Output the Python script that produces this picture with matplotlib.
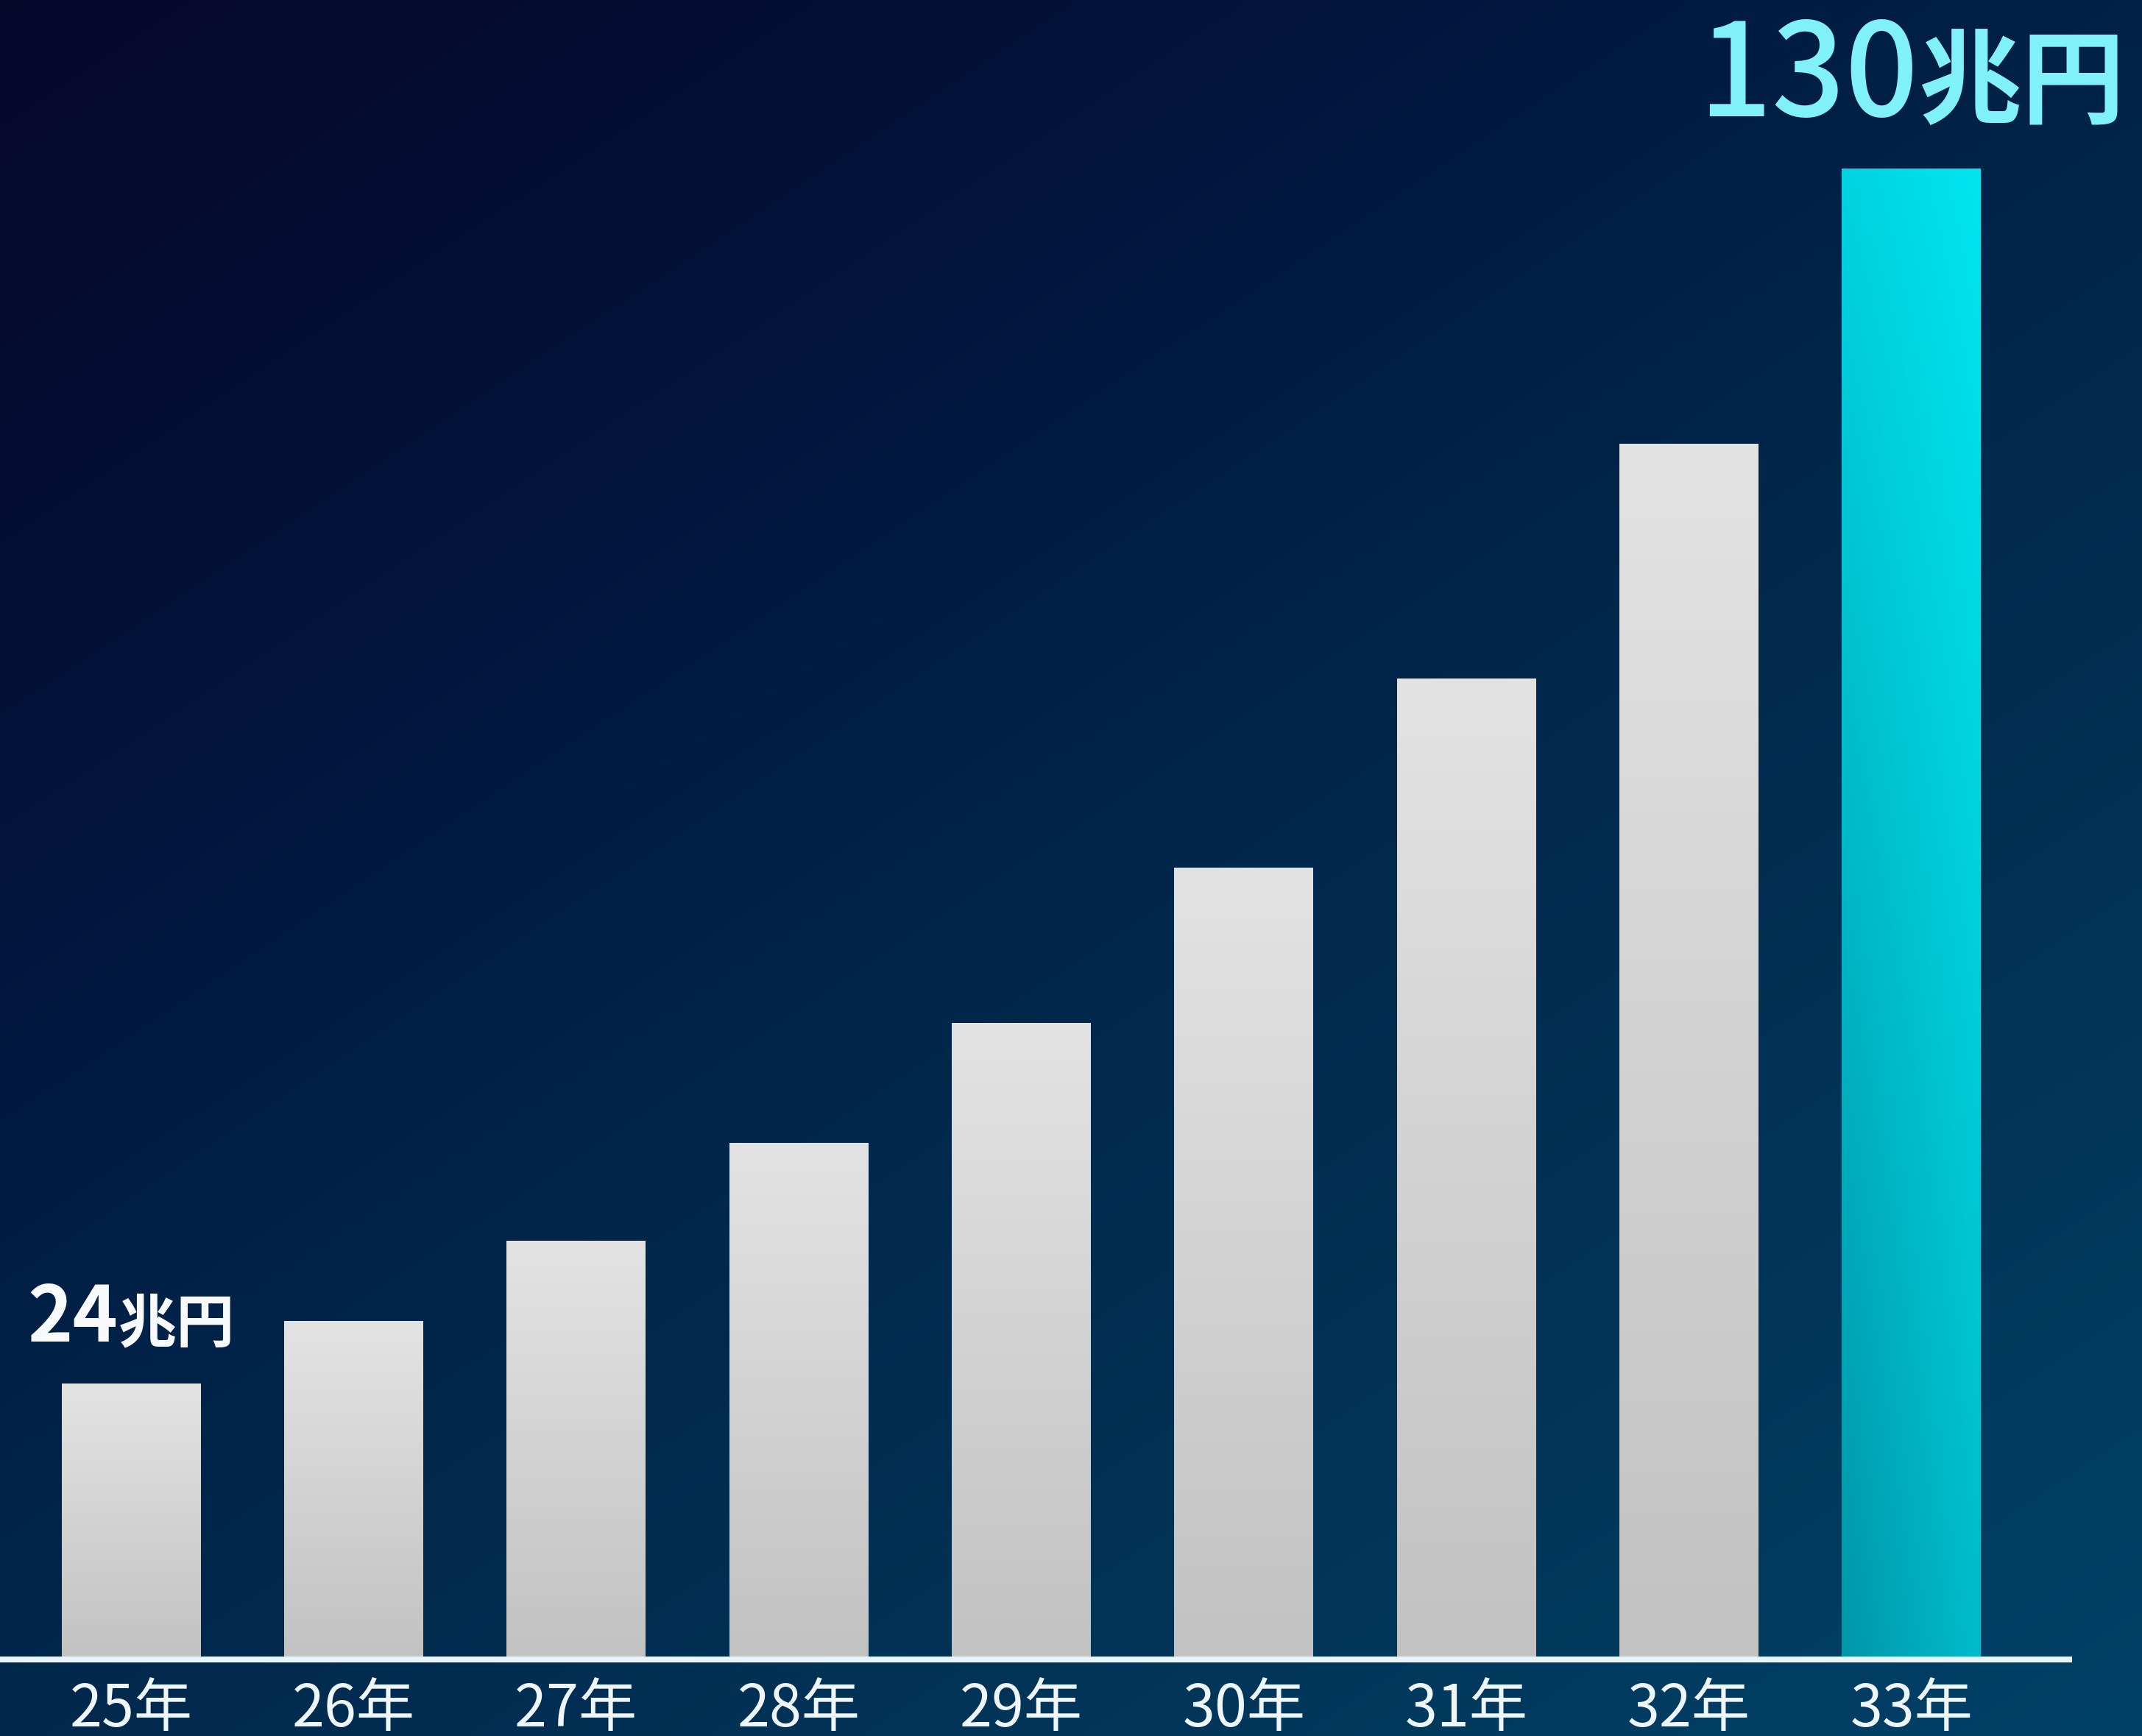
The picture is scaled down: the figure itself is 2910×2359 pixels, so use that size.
import numpy as np
import matplotlib.pyplot as plt
from matplotlib.colors import LinearSegmentedColormap, to_rgb
from matplotlib.offsetbox import TextArea, HPacker, AnnotationBbox

plt.rcParams['font.family'] = ['Noto Sans CJK JP', 'DejaVu Sans']

# market size by year (兆円)
years = ['25年', '26年', '27年', '28年', '29年', '30年', '31年', '32年', '33年']
market = [24, 29.5, 36.5, 45, 55.5, 69, 85.5, 106, 130]
first_label = ('24', '兆円')
last_label = ('130', '兆円')

fig = plt.figure(figsize=(29.1, 23.59), dpi=100)

# diagonal navy background
bg = fig.add_axes([0, 0, 1, 1], zorder=0)
bg.axis('off')
gx, gy = np.meshgrid(np.linspace(0, 1, 600), np.linspace(0, 1, 600))
shade = 0.45 * gx + 0.55 * gy
bg_cmap = LinearSegmentedColormap.from_list('bg', [
    (0.0, '#07072a'), (0.15, '#040e32'), (0.3, '#02163e'),
    (0.5, '#01254a'), (0.75, '#013457'), (1.0, '#014168')])
bg.imshow(shade, cmap=bg_cmap, vmin=0, vmax=1, aspect='auto',
          extent=[0, 1, 0, 1], origin='upper', interpolation='bilinear')

ax = fig.add_axes([0, 0.0441, 0.966, 0.9559], zorder=1)
ax.set_facecolor('none')

x = np.arange(len(years))
bars = ax.bar(x, market, width=0.625, color='none', zorder=2)


def vertical_fill(top, bottom, n=256):
    top, bottom = np.array(to_rgb(top)), np.array(to_rgb(bottom))
    s = np.linspace(0, 1, n)[:, None]
    return (bottom + (top - bottom) * s)[:, None, :]


def corner_fill(tl, tr, bl, br, n=256):
    tl, tr, bl, br = (np.array(to_rgb(c)) for c in (tl, tr, bl, br))
    v = np.linspace(0, 1, n)[:, None, None]
    h = np.linspace(0, 1, n)[None, :, None]
    bottom = bl + (br - bl) * h
    top = tl + (tr - tl) * h
    return bottom + (top - bottom) * v


gray = vertical_fill('#e3e3e3', '#c2c2c2')
cyan = corner_fill('#00d2e0', '#00e6f0', '#0096a8', '#00bccb')

for i, p in enumerate(bars.patches):
    img = cyan if i == len(bars.patches) - 1 else gray
    ax.imshow(img, extent=[p.get_x(), p.get_x() + p.get_width(), 0, p.get_height()],
              origin='lower', aspect='auto', interpolation='bilinear', zorder=2)

ax.axhline(0, color='#e8f6fc', lw=5.8, zorder=4, clip_on=False)


def value_label(i, num, unit, color, num_size, unit_size, gap, weight):
    num_box = TextArea(num, textprops=dict(color=color, fontsize=num_size, fontweight=weight))
    unit_box = TextArea(unit, textprops=dict(color=color, fontsize=unit_size, fontweight='bold'))
    pack = HPacker(children=[num_box, unit_box], align='baseline', pad=0, sep=0)
    ab = AnnotationBbox(pack, (x[i], market[i]), xybox=(0, gap), xycoords='data',
                        boxcoords='offset points', box_alignment=(0.5, 0),
                        frameon=False, zorder=5)
    ax.add_artist(ab)


value_label(0, first_label[0], first_label[1], '#f8f9fb', 75, 57, 26, 'bold')
value_label(len(x) - 1, last_label[0], last_label[1], '#80f1f8', 126, 101, 23, 'medium')

ax.set_xticks(x, years)
ax.tick_params(axis='x', length=0, pad=20, labelsize=57, labelcolor='#eef6fa')
ax.set_yticks([])
for s in ax.spines.values():
    s.set_visible(False)

ax.set_xlim(-0.589, 8.708)
ax.set_ylim(0, 144.7)

fig.savefig('out.png', dpi=100)
